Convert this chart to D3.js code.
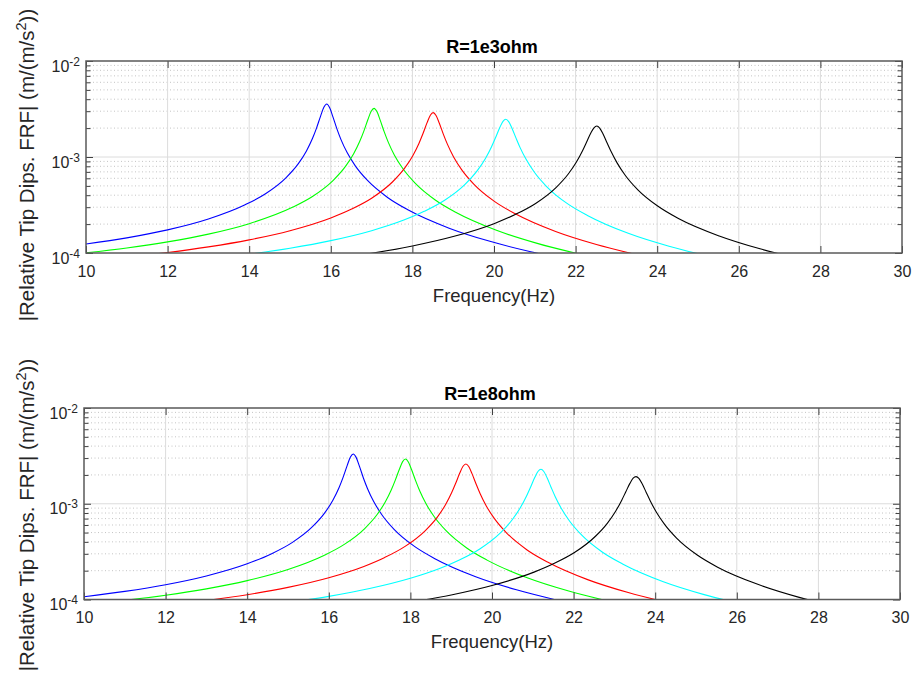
<!DOCTYPE html>
<html>
<head>
<meta charset="utf-8">
<script src="https://cdn.jsdelivr.net/npm/d3@7"></script>
<style>
  html, body { margin: 0; padding: 0; background: #ffffff; }
  svg { display: block; font-family: "Liberation Sans", Arial, Helvetica, sans-serif; }
</style>
</head>
<body>
<svg id="fig" width="915" height="682"></svg>
<script>
// ---------- axis ticks and labels ----------
const xTickValues = [10, 12, 14, 16, 18, 20, 22, 24, 26, 28, 30];
const yDecadeExponents = [-4, -3, -2];
const panelTitles = ["R=1e3ohm", "R=1e8ohm"];
const xLabelText = "Frequency(Hz)";
const yLabelMain = "|Relative Tip Dips. FRF| (m/(m/s";
const yLabelSup = "2";
const yLabelTail = "))";

// ---------- R = 1e3 ohm ----------
const blue1e3Hz = [10, 11, 12, 13, 13.9, 14.4, 14.9, 15.2, 15.4, 15.55, 15.65, 15.75, 15.83, 15.9, 15.97, 16.05, 16.15, 16.25, 16.4, 16.6, 16.9, 17.4, 17.9, 18.9, 19.9, 20.9, 21.9];
const blue1e3Amp = [1.240e-4, 1.438e-4, 1.742e-4, 2.261e-4, 3.180e-4, 4.147e-4, 6.074e-4, 8.475e-4, 1.150e-3, 1.557e-3, 2.001e-3, 2.669e-3, 3.296e-3, 3.562e-3, 3.275e-3, 2.636e-3, 1.962e-3, 1.516e-3, 1.111e-3, 8.092e-4, 5.694e-4, 3.768e-4, 2.803e-4, 1.815e-4, 1.323e-4, 1.030e-4, 8.36e-5];

const green1e3Hz = [10, 11, 12, 13, 14, 15.06, 15.56, 16.06, 16.36, 16.56, 16.71, 16.81, 16.91, 16.99, 17.06, 17.13, 17.21, 17.31, 17.41, 17.56, 17.76, 18.06, 18.56, 19.06, 20.06, 21.06, 22.06];
const green1e3Amp = [1.005e-4, 1.129e-4, 1.306e-4, 1.573e-4, 2.020e-4, 2.989e-4, 3.900e-4, 5.716e-4, 7.973e-4, 1.080e-3, 1.456e-3, 1.861e-3, 2.455e-3, 2.991e-3, 3.211e-3, 2.972e-3, 2.424e-3, 1.825e-3, 1.421e-3, 1.045e-3, 7.634e-4, 5.380e-4, 3.567e-4, 2.658e-4, 1.724e-4, 1.259e-4, 9.82e-5];

const red1e3Hz = [11, 12, 13, 14, 15, 16, 16.51, 17.01, 17.51, 17.81, 18.01, 18.16, 18.26, 18.36, 18.44, 18.51, 18.58, 18.66, 18.76, 18.86, 19.01, 19.21, 19.51, 20.01, 20.51, 21.51, 22.51, 23.51];
const red1e3Amp = [9.07e-5, 1.012e-4, 1.158e-4, 1.371e-4, 1.709e-4, 2.320e-4, 2.870e-4, 3.746e-4, 5.490e-4, 7.648e-4, 1.033e-3, 1.384e-3, 1.754e-3, 2.279e-3, 2.727e-3, 2.900e-3, 2.705e-3, 2.248e-3, 1.722e-3, 1.353e-3, 1.002e-3, 7.346e-4, 5.192e-4, 3.450e-4, 2.576e-4, 1.674e-4, 1.225e-4, 9.57e-5];

const cyan1e3Hz = [14, 15, 16, 17, 17.79, 18.29, 18.79, 19.29, 19.59, 19.79, 19.94, 20.04, 20.14, 20.22, 20.29, 20.36, 20.44, 20.54, 20.64, 20.79, 20.99, 21.29, 21.79, 22.29, 23.29, 24.29, 25.29];
const cyan1e3Amp = [9.71e-5, 1.122e-4, 1.346e-4, 1.708e-4, 2.201e-4, 2.715e-4, 3.542e-4, 5.187e-4, 7.199e-4, 9.663e-4, 1.281e-3, 1.598e-3, 2.020e-3, 2.351e-3, 2.470e-3, 2.336e-3, 1.995e-3, 1.572e-3, 1.252e-3, 9.395e-4, 6.937e-4, 4.927e-4, 3.285e-4, 2.460e-4, 1.602e-4, 1.175e-4, 9.19e-5];

const black1e3Hz = [16, 17, 18, 19, 20, 20.52, 21.02, 21.52, 21.82, 22.02, 22.17, 22.27, 22.37, 22.45, 22.52, 22.59, 22.67, 22.77, 22.87, 23.02, 23.22, 23.52, 24.02, 24.52, 25.52, 26.52, 27.52];
const black1e3Amp = [8.63e-5, 9.93e-5, 1.183e-4, 1.483e-4, 2.022e-4, 2.517e-4, 3.282e-4, 4.802e-4, 6.645e-4, 8.863e-4, 1.162e-3, 1.430e-3, 1.768e-3, 2.014e-3, 2.100e-3, 2.003e-3, 1.746e-3, 1.408e-3, 1.139e-3, 8.633e-4, 6.423e-4, 4.582e-4, 3.066e-4, 2.287e-4, 1.504e-4, 1.105e-4, 8.66e-5];

// ---------- R = 1e8 ohm ----------
const blue1e8Hz = [10, 11, 12, 13, 14, 14.6, 15.1, 15.6, 15.9, 16.1, 16.25, 16.35, 16.45, 16.53, 16.6, 16.67, 16.75, 16.85, 16.95, 17.1, 17.3, 17.6, 18.1, 18.6, 19.6, 20.6, 21.6];
const blue1e8Amp = [1.070e-4, 1.216e-4, 1.428e-4, 1.763e-4, 2.362e-4, 3.011e-4, 3.929e-4, 5.757e-4, 8.033e-4, 1.089e-3, 1.471e-3, 1.887e-3, 2.505e-3, 3.075e-3, 3.308e-3, 3.050e-3, 2.472e-3, 1.849e-3, 1.435e-3, 1.053e-3, 7.682e-4, 5.410e-4, 3.585e-4, 2.669e-4, 1.730e-4, 1.263e-4, 9.84e-5];

const green1e8Hz = [11, 12, 13, 14, 15, 15.88, 16.38, 16.88, 17.18, 17.38, 17.53, 17.63, 17.73, 17.81, 17.88, 17.95, 18.03, 18.13, 18.23, 18.38, 18.58, 18.88, 19.38, 19.88, 20.88, 21.88, 22.88];
const green1e8Amp = [9.80e-5, 1.108e-4, 1.292e-4, 1.574e-4, 2.056e-4, 2.884e-4, 3.762e-4, 5.512e-4, 7.678e-4, 1.037e-3, 1.391e-3, 1.764e-3, 2.296e-3, 2.754e-3, 2.930e-3, 2.731e-3, 2.264e-3, 1.732e-3, 1.357e-3, 1.005e-3, 7.364e-4, 5.203e-4, 3.455e-4, 2.578e-4, 1.674e-4, 1.224e-4, 9.55e-5];

const red1e8Hz = [13, 14, 15, 16, 16.86, 17.36, 17.86, 18.36, 18.66, 18.86, 19.01, 19.11, 19.21, 19.29, 19.36, 19.43, 19.51, 19.61, 19.71, 19.86, 20.06, 20.36, 20.86, 21.36, 22.36, 23.36, 24.36];
const red1e8Amp = [9.75e-5, 1.122e-4, 1.339e-4, 1.688e-4, 2.215e-4, 2.731e-4, 3.564e-4, 5.221e-4, 7.260e-4, 9.766e-4, 1.301e-3, 1.635e-3, 2.090e-3, 2.461e-3, 2.600e-3, 2.446e-3, 2.064e-3, 1.606e-3, 1.273e-3, 9.485e-4, 6.985e-4, 4.948e-4, 3.294e-4, 2.463e-4, 1.603e-4, 1.174e-4, 9.18e-5];

const cyan1e8Hz = [15, 16, 17, 18, 18.7, 19.2, 19.7, 20.2, 20.5, 20.7, 20.85, 20.95, 21.05, 21.13, 21.2, 21.27, 21.35, 21.45, 21.55, 21.7, 21.9, 22.2, 22.7, 23.2, 24.2, 25.2, 26.2];
const cyan1e8Amp = [9.30e-5, 1.079e-4, 1.301e-4, 1.665e-4, 2.093e-4, 2.584e-4, 3.372e-4, 4.936e-4, 6.848e-4, 9.174e-4, 1.211e-3, 1.505e-3, 1.888e-3, 2.184e-3, 2.289e-3, 2.170e-3, 1.868e-3, 1.481e-3, 1.186e-3, 8.927e-4, 6.606e-4, 4.698e-4, 3.137e-4, 2.351e-4, 1.533e-4, 1.125e-4, 8.81e-5];

const black1e8Hz = [18, 19, 20, 21.03, 21.53, 22.03, 22.53, 22.83, 23.03, 23.18, 23.28, 23.38, 23.46, 23.53, 23.6, 23.68, 23.78, 23.88, 24.03, 24.23, 24.53, 25.03, 25.53, 26.53, 27.53, 28.53];
const black1e8Amp = [9.37e-5, 1.116e-4, 1.400e-4, 1.931e-4, 2.387e-4, 3.111e-4, 4.549e-4, 6.286e-4, 8.360e-4, 1.091e-3, 1.335e-3, 1.633e-3, 1.848e-3, 1.920e-3, 1.838e-3, 1.616e-3, 1.314e-3, 1.070e-3, 8.151e-4, 6.083e-4, 4.349e-4, 2.914e-4, 2.176e-4, 1.432e-4, 1.053e-4, 8.26e-5];

// ---------- styling ----------
const seriesColors = ["#0000ff", "#00ff00", "#ff0000", "#00ffff", "#000000"];
const textColor = "#262626";

const panels = [
  {
    title: panelTitles[0],
    series: [[blue1e3Hz, blue1e3Amp], [green1e3Hz, green1e3Amp], [red1e3Hz, red1e3Amp], [cyan1e3Hz, cyan1e3Amp], [black1e3Hz, black1e3Amp]],
    box: { left: 86, right: 902, top: 61, bottom: 253 },
    titleY: 52.5, yLabelX: 33.5, yLabelY: 165
  },
  {
    title: panelTitles[1],
    series: [[blue1e8Hz, blue1e8Amp], [green1e8Hz, green1e8Amp], [red1e8Hz, red1e8Amp], [cyan1e8Hz, cyan1e8Amp], [black1e8Hz, black1e8Amp]],
    box: { left: 84, right: 900, top: 408, bottom: 599.5 },
    titleY: 400, yLabelX: 33.5, yLabelY: 515
  }
];

const svg = d3.select("#fig");
svg.append("rect").attr("width", 915).attr("height", 682).attr("fill", "#ffffff");

const majorY = yDecadeExponents.map(e => Math.pow(10, e));
const minorY = [];
yDecadeExponents.slice(0, -1).forEach(e => {
  for (let k = 2; k <= 9; k++) minorY.push(k * Math.pow(10, e));
});

function styleAxis(g) {
  g.select(".domain").remove();
  g.selectAll(".tick line").attr("stroke", "#404040").attr("stroke-width", 1);
  g.attr("font-family", null).attr("font-size", 16).attr("fill", textColor);
  g.selectAll(".tick text").attr("fill", textColor);
}

panels.forEach((p, i) => {
  const b = p.box;
  const x = d3.scaleLinear().domain([10, 30]).range([b.left, b.right]);
  const y = d3.scaleLog().domain([1e-4, 1e-2]).range([b.bottom, b.top]);
  const g = svg.append("g");

  const clipId = "plotArea" + i;
  g.append("clipPath").attr("id", clipId)
    .append("rect").attr("x", b.left).attr("y", b.top)
    .attr("width", b.right - b.left).attr("height", b.bottom - b.top);

  // minor grid (dotted)
  g.append("g").selectAll("line").data(minorY).join("line")
    .attr("x1", b.left).attr("x2", b.right)
    .attr("y1", d => y(d)).attr("y2", d => y(d))
    .attr("stroke", "#c4c4c4").attr("stroke-width", 1)
    .attr("stroke-dasharray", "1,2.5");

  // major grid
  g.append("g").selectAll("line").data(xTickValues.slice(1, -1)).join("line")
    .attr("x1", d => x(d)).attr("x2", d => x(d))
    .attr("y1", b.top).attr("y2", b.bottom)
    .attr("stroke", "#dcdcdc").attr("stroke-width", 1);
  g.append("g").selectAll("line").data(majorY.slice(1, -1)).join("line")
    .attr("x1", b.left).attr("x2", b.right)
    .attr("y1", d => y(d)).attr("y2", d => y(d))
    .attr("stroke", "#dcdcdc").attr("stroke-width", 1);

  // response curves
  const line = d3.line().x(d => x(d[0])).y(d => y(d[1])).curve(d3.curveMonotoneX);
  g.append("g").attr("clip-path", `url(#${clipId})`)
    .selectAll("path").data(p.series).join("path")
    .attr("d", s => line(s[0].map((f, j) => [f, s[1][j]])))
    .attr("fill", "none")
    .attr("stroke", (s, j) => seriesColors[j])
    .attr("stroke-width", 1.1)
    .attr("stroke-linejoin", "round");

  // axes with inward ticks
  const xb = g.append("g").attr("transform", `translate(0,${b.bottom})`)
    .call(d3.axisBottom(x).tickValues(xTickValues).tickSize(-7).tickPadding(12.6).tickFormat(d3.format("d")));
  styleAxis(xb);
  const xt = g.append("g").attr("transform", `translate(0,${b.top})`)
    .call(d3.axisTop(x).tickValues(xTickValues).tickSize(-7).tickFormat(""));
  styleAxis(xt);

  const yl = g.append("g").attr("transform", `translate(${b.left},0)`)
    .call(d3.axisLeft(y).tickValues(majorY).tickSize(-7).tickPadding(6).tickFormat(d => d));
  styleAxis(yl);
  yl.selectAll(".tick text").each(function (d) {
    const t = d3.select(this);
    const e = Math.round(Math.log10(d));
    t.text(null).attr("dy", null).attr("y", 10);
    t.append("tspan").text("10");
    t.append("tspan").attr("font-size", 12).attr("dy", -6).text(String(e));
  });
  const ylm = g.append("g").attr("transform", `translate(${b.left},0)`)
    .call(d3.axisLeft(y).tickValues(minorY).tickSize(-4.5).tickFormat(""));
  styleAxis(ylm);
  const yr = g.append("g").attr("transform", `translate(${b.right},0)`)
    .call(d3.axisRight(y).tickValues(majorY).tickSize(-7).tickFormat(""));
  styleAxis(yr);
  const yrm = g.append("g").attr("transform", `translate(${b.right},0)`)
    .call(d3.axisRight(y).tickValues(minorY).tickSize(-4.5).tickFormat(""));
  styleAxis(yrm);

  // frame
  g.append("rect").attr("x", b.left).attr("y", b.top)
    .attr("width", b.right - b.left).attr("height", b.bottom - b.top)
    .attr("fill", "none").attr("stroke", "#5a5a5a").attr("stroke-width", 1.5);

  // title
  g.append("text").attr("x", (b.left + b.right) / 2 - 2).attr("y", p.titleY)
    .attr("text-anchor", "middle").attr("font-weight", "bold")
    .attr("font-size", 18).attr("fill", "#000000").text(p.title);

  // x label
  g.append("text").attr("x", (b.left + b.right) / 2).attr("y", b.bottom + 48.5)
    .attr("text-anchor", "middle").attr("font-size", 18.5)
    .attr("fill", textColor).text(xLabelText);

  // y label
  const yt = g.append("text")
    .attr("transform", `translate(${p.yLabelX},${p.yLabelY}) rotate(-90)`)
    .attr("text-anchor", "middle").attr("font-size", 20.5).attr("fill", textColor);
  yt.append("tspan").text(yLabelMain);
  yt.append("tspan").attr("font-size", 14.5).attr("dy", -8).text(yLabelSup);
  yt.append("tspan").attr("dy", 8).text(yLabelTail);
});
</script>
</body>
</html>
